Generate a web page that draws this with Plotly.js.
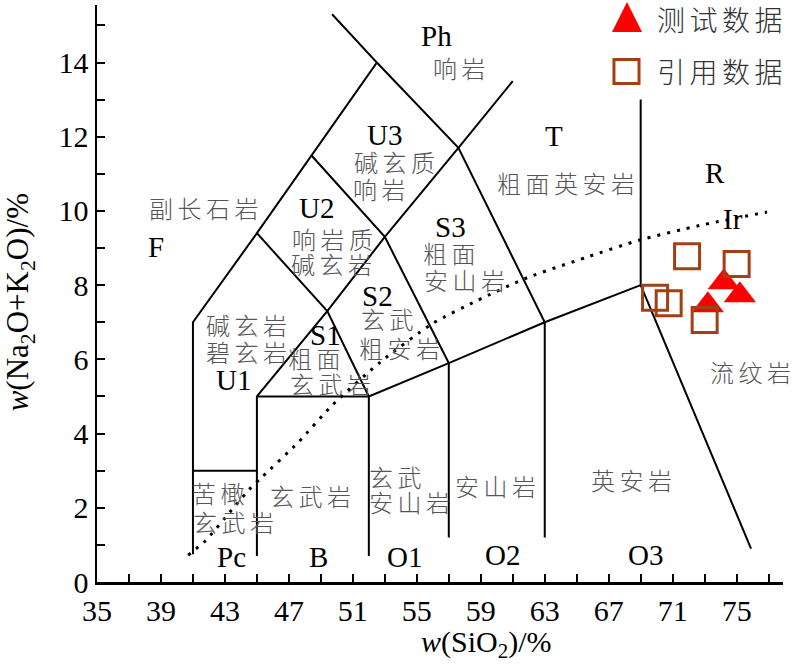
<!DOCTYPE html>
<html>
<head>
<meta charset="utf-8">
<script src="https://cdn.plot.ly/plotly-3.0.1.min.js"></script>
<style>
  body { margin: 0; background: #fff; }
  text[style*="CJK"] { letter-spacing: 4.5px; }
</style>
</head>
<body>
<div id="chart" style="width:800px;height:665px"></div>
<script>
// ---- sample data ----
const testSiO2 = [74.2, 75.2, 73.2];
const testAlk  = [8.08, 7.73, 7.46];
const citedSiO2 = [71.9, 75.0, 69.9, 70.75, 73.0];
const citedAlk  = [8.78, 8.57, 7.66, 7.51, 7.06];

// ---- alkaline / subalkaline divide (dotted) ----
const irvineSiO2 = [40.7, 41.8, 43.4, 44.6, 45.3, 47.6, 49.7, 52.7, 56.0, 58.8, 61.9, 65.6, 68.9, 72.7, 76.9];
const irvineAlk  = [0.72, 1.12, 1.93, 2.53, 2.82, 3.77, 4.76, 5.92, 6.97, 7.59, 8.20, 8.75, 9.21, 9.61, 9.97];

// ---- TAS field boundaries (SiO2, Na2O+K2O) ----
const boundarySiO2 = [
  [41, 41, 45, 48.4, 52.5, 49.7],
  [41, 45],
  [45, 45, 49.4, 53, 57.6, 61],
  [45, 49.4, 52, 52],
  [48.4, 53, 57, 57],
  [52.5, 57.6, 63, 63],
  [45, 52, 57, 63, 69, 69],
  [69, 75.9]
];
const boundaryAlk = [
  [0.75, 7, 9.4, 11.5, 14, 15.3],
  [3, 3],
  [0.7, 5, 7.3, 9.3, 11.7, 13.5],
  [9.4, 7.3, 5, 0.7],
  [11.5, 9.3, 5.9, 1.2],
  [14, 11.7, 7, 1.2],
  [5, 5, 5.9, 7, 8, 13],
  [8, 0.9]
];

// ---- ticks ----
const xTickVals = [35, 39, 43, 47, 51, 55, 59, 63, 67, 71, 75];
const yTickVals = [0, 2, 4, 6, 8, 10, 12, 14];

// ---- field labels ----
const codeLabels = ['Ph', 'U3', 'T', 'R', 'Ir', 'F', 'U2', 'S3', 'S2', 'S1', 'U1', 'Pc', 'B', 'O1', 'O2', 'O3'];
const codeX = [56.25, 53.0, 63.56, 73.63, 74.75, 38.69, 48.75, 57.13, 52.56, 49.31, 43.56, 43.38, 48.88, 54.25, 60.38, 69.31];
const codeY = [14.71, 12.04, 12.01, 11.02, 9.78, 9.02, 10.07, 9.56, 7.70, 6.65, 5.44, 0.67, 0.67, 0.67, 0.72, 0.72];

const nameLabels = ['响岩', '碱玄质', '响岩', '粗面英安岩', '副长石岩', '响岩质', '碱玄岩', '粗面', '安山岩',
  '碱玄岩', '碧玄岩', '粗面', '玄武岩', '玄武', '粗安岩', '苦橄', '玄武岩', '玄武岩', '玄武', '安山岩', '安山岩', '英安岩', '流纹岩'];
const nameX = [57.81, 53.75, 52.81, 64.5, 41.81, 49.88, 49.81, 57.19, 58.13,
  44.5, 44.5, 48.75, 49.75, 53.31, 54.06, 42.75, 43.69, 48.5, 53.81, 54.69, 60.06, 68.56, 76.0];
const nameY = [13.87, 11.34, 10.61, 10.77, 10.10, 9.26, 8.59, 8.88, 8.16,
  6.95, 6.22, 6.06, 5.36, 7.11, 6.33, 2.42, 1.64, 2.34, 2.85, 2.18, 2.61, 2.77, 5.68];

const legendNames = ['测试数据', '引用数据'];

// ---- build ----
const red = '#ff0000';
const brown = '#a33f12';
const serif = 'Liberation Serif, Times New Roman, serif';
const cjk = 'Noto Sans CJK SC';

const bx = [], by = [];
boundarySiO2.forEach((seg, i) => {
  seg.forEach((v, j) => { bx.push(v); by.push(boundaryAlk[i][j]); });
  bx.push(null); by.push(null);
});

const traces = [
  { x: bx, y: by, mode: 'lines', line: { color: '#000', width: 2 }, hoverinfo: 'skip', showlegend: false, cliponaxis: false },
  { x: irvineSiO2, y: irvineAlk, mode: 'lines', line: { color: '#000', width: 3, dash: '3px,7px', shape: 'spline', smoothing: 0.6 }, hoverinfo: 'skip', showlegend: false },
  { x: testSiO2, y: testAlk, name: legendNames[0], mode: 'markers', showlegend: false,
    marker: { symbol: 'triangle-up', size: 28, color: red, line: { width: 0 } } },
  { x: citedSiO2, y: citedAlk, name: legendNames[1], mode: 'markers', showlegend: false,
    marker: { symbol: 'square-open', size: 25, color: brown, line: { color: brown, width: 3 } } }
];

const annotations = [];
codeLabels.forEach((t, i) => annotations.push({
  text: t, x: codeX[i], y: codeY[i], xref: 'x', yref: 'y', showarrow: false,
  xanchor: 'center', yanchor: 'middle', font: { family: serif, size: 29, color: '#000' }
}));
nameLabels.forEach((t, i) => annotations.push({
  text: t, x: nameX[i], y: nameY[i], xref: 'x', yref: 'y', showarrow: false,
  xanchor: 'center', yanchor: 'middle', font: { family: cjk, size: 24, color: '#555', weight: 300 }
}));
// legend text
annotations.push({ text: legendNames[0], xref: 'paper', yref: 'paper', x: 0.8134, y: 0.975, showarrow: false,
  xanchor: 'left', yanchor: 'middle', font: { family: cjk, size: 28, color: '#333', weight: 300 } });
annotations.push({ text: legendNames[1], xref: 'paper', yref: 'paper', x: 0.8134, y: 0.885, showarrow: false,
  xanchor: 'left', yanchor: 'middle', font: { family: cjk, size: 28, color: '#333', weight: 300 } });
// axis titles
annotations.push({ text: '<i>w</i>(SiO<sub>2</sub>)/%', xref: 'paper', yref: 'paper', x: 0.5685, y: -0.108, showarrow: false,
  xanchor: 'center', yanchor: 'middle', font: { family: serif, size: 30, color: '#000' } });
annotations.push({ text: '<i>w</i>(Na<sub>2</sub>O+K<sub>2</sub>O)/%', xref: 'paper', yref: 'paper', x: -0.112, y: 0.485, showarrow: false,
  textangle: -90, xanchor: 'center', yanchor: 'middle', font: { family: serif, size: 31, color: '#000' } });

const shapes = [
  { type: 'path', xref: 'paper', yref: 'paper', path: 'M0.7507,0.9532 L0.7945,0.9532 L0.7726,1.0052 Z',
    fillcolor: red, line: { width: 0 }, layer: 'above' },
  { type: 'rect', xref: 'paper', yref: 'paper', x0: 0.7536, x1: 0.7901, y0: 0.8640, y1: 0.9055,
    fillcolor: 'rgba(0,0,0,0)', line: { color: brown, width: 3 }, layer: 'above' }
];

const axisCommon = {
  showgrid: false, zeroline: false, showline: true, linecolor: '#000', linewidth: 2.5,
  ticks: 'inside', ticklen: 8, tickwidth: 2, tickcolor: '#000',
  tickfont: { family: serif, size: 30, color: '#000' }, tickmode: 'array'
};

const layout = {
  width: 800, height: 665,
  margin: { l: 97, r: 17, t: 5, b: 83 },
  paper_bgcolor: '#fff', plot_bgcolor: '#fff',
  showlegend: false,
  xaxis: Object.assign({}, axisCommon, {
    range: [35, 77.9], tickvals: xTickVals, ticktext: xTickVals.map(String),
    minor: { dtick: 2, tick0: 35, ticks: 'inside', ticklen: 8, tickwidth: 2, tickcolor: '#000' }
  }),
  yaxis: Object.assign({}, axisCommon, {
    range: [0, 15.55], tickvals: yTickVals, ticktext: yTickVals.map(String),
    minor: { dtick: 1, tick0: 0, ticks: 'inside', ticklen: 8, tickwidth: 2, tickcolor: '#000' }
  }),
  annotations: annotations,
  shapes: shapes
};

Plotly.newPlot('chart', traces, layout, { displayModeBar: false, staticPlot: true });
</script>
</body>
</html>
